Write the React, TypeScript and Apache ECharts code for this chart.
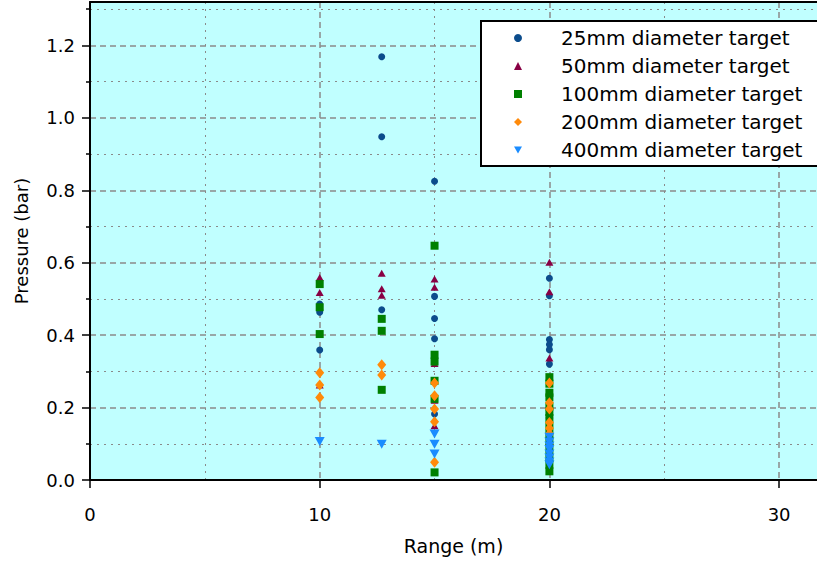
import React, { useEffect, useRef } from "react";
import * as echarts from "echarts";

const seriesNames = [
  "25mm diameter target",
  "50mm diameter target",
  "100mm diameter target",
  "200mm diameter target",
  "400mm diameter target",
];

const xTicks = [0, 10, 20, 30];
const xMinor = [5, 15, 25];
const yTicks = [0, 0.2, 0.4, 0.6, 0.8, 1.0, 1.2];
const yMinor = [0.1, 0.3, 0.5, 0.7, 0.9, 1.1, 1.3];

const d25 = [
  [10, 0.486], [10, 0.47], [10, 0.463], [10, 0.359],
  [12.7, 1.169], [12.7, 0.948], [12.7, 0.47],
  [15, 0.825], [15, 0.507], [15, 0.446], [15, 0.39], [15, 0.182],
  [20, 0.557], [20, 0.509], [20, 0.388], [20, 0.374], [20, 0.36], [20, 0.32],
];
const d50 = [
  [10, 0.559], [10, 0.518], [10, 0.262],
  [12.7, 0.571], [12.7, 0.528], [12.7, 0.51],
  [15, 0.555], [15, 0.532], [15, 0.322], [15, 0.22], [15, 0.15],
  [20, 0.601], [20, 0.52], [20, 0.337], [20, 0.18],
];
const d100 = [
  [10, 0.541], [10, 0.477], [10, 0.403],
  [12.7, 0.445], [12.7, 0.412], [12.7, 0.249],
  [15, 0.647], [15, 0.346], [15, 0.327], [15, 0.274], [15, 0.224], [15, 0.021],
  [20, 0.284], [20, 0.266], [20, 0.241], [20, 0.228], [20, 0.203], [20, 0.188],
  [20, 0.171], [20, 0.149], [20, 0.127], [20, 0.108], [20, 0.083], [20, 0.061],
  [20, 0.042], [20, 0.024],
];
const d200 = [
  [10, 0.296], [10, 0.262], [10, 0.228],
  [12.7, 0.318], [12.7, 0.29],
  [15, 0.268], [15, 0.233], [15, 0.196], [15, 0.161], [15, 0.049],
  [20, 0.268], [20, 0.213], [20, 0.196], [20, 0.159], [20, 0.143], [20, 0.128],
];
const d400 = [
  [10, 0.106],
  [12.7, 0.099],
  [15, 0.127], [15, 0.099], [15, 0.072],
  [20, 0.118], [20, 0.105], [20, 0.094], [20, 0.084], [20, 0.072], [20, 0.061],
  [20, 0.05], [20, 0.042],
];

const FONT = "DejaVu Sans";

export default function App() {
  const ref = useRef<HTMLDivElement>(null);
  useEffect(() => {
    if (!ref.current) return;
    const chart = echarts.init(ref.current, undefined, { renderer: "svg" });
    const major = { show: true, lineStyle: { color: "#8a8a8a", width: 1.5, type: [6, 4] as any } };
    const minor = { show: true, lineStyle: { color: "#8a8a8a", width: 1, type: [2, 5] as any } };
    const lbl = { fontFamily: FONT, fontSize: 18, color: "#000" };
    chart.setOption({
      animation: false,
      grid: {
        left: 90,
        top: 2,
        right: 0,
        height: 478,
        show: true,
        backgroundColor: "#c0ffff",
        borderWidth: 0,
      },
      legend: {
        orient: "vertical",
        left: 481,
        top: 21,
        padding: [6, 40, 5, 33],
        itemGap: 6,
        itemWidth: 8,
        itemHeight: 8,
        backgroundColor: "#fff",
        borderColor: "#000",
        borderWidth: 2,
        borderRadius: 0,
        textStyle: {
          fontFamily: FONT,
          fontSize: 20,
          lineHeight: 22,
          color: "#000",
          padding: [0, 0, 0, 34],
        },
        data: seriesNames,
      },
      xAxis: [
        {
          type: "value",
          min: 0,
          max: 31.65,
          position: "bottom",
          axisLine: { show: true, onZero: false, lineStyle: { color: "#000", width: 2 } },
          axisTick: { show: true, length: 8, customValues: xTicks, lineStyle: { color: "#000", width: 1.5 } },
          axisLabel: { ...lbl, margin: 25, customValues: xTicks, formatter: (v: number) => String(v) },
          splitLine: major,
          name: "Range (m)",
          nameLocation: "middle",
          nameGap: 56,
          nameTextStyle: { ...lbl, fontSize: 19 },
        },
        {
          type: "value",
          min: 0,
          max: 31.65,
          position: "bottom",
          axisLine: { show: false },
          axisTick: { show: false, customValues: xMinor },
          axisLabel: { show: false, customValues: xMinor },
          splitLine: minor,
        },
        {
          type: "value",
          min: 0,
          max: 31.65,
          position: "top",
          axisLine: { show: true, onZero: false, lineStyle: { color: "#000", width: 2 } },
          axisTick: { show: false },
          axisLabel: { show: false },
          splitLine: { show: false },
        },
      ],
      yAxis: [
        {
          type: "value",
          min: 0,
          max: 1.32,
          position: "left",
          axisLine: { show: true, onZero: false, lineStyle: { color: "#000", width: 2 } },
          axisTick: { show: true, length: 8, customValues: yTicks, lineStyle: { color: "#000", width: 1.5 } },
          axisLabel: { ...lbl, margin: 15, customValues: yTicks, formatter: (v: number) => v.toFixed(1) },
          splitLine: major,
          name: "Pressure (bar)",
          nameLocation: "middle",
          nameGap: 60,
          nameTextStyle: lbl,
        },
        {
          type: "value",
          min: 0,
          max: 1.32,
          position: "left",
          axisLine: { show: false },
          axisTick: { show: true, length: 4, customValues: yMinor, lineStyle: { color: "#000", width: 1.5 } },
          axisLabel: { show: false, customValues: yMinor },
          splitLine: minor,
        },
      ],
      series: [
        { name: seriesNames[0], type: "scatter", data: d25, symbol: "circle", symbolSize: 7, itemStyle: { color: "#0b4c8c", opacity: 1 } },
        { name: seriesNames[1], type: "scatter", data: d50, symbol: "triangle", symbolSize: [8, 7], itemStyle: { color: "#880044", opacity: 1 } },
        { name: seriesNames[2], type: "scatter", data: d100, symbol: "rect", symbolSize: 8, itemStyle: { color: "#008000", opacity: 1 } },
        { name: seriesNames[3], type: "scatter", data: d200, symbol: "diamond", symbolSize: [9, 11], itemStyle: { color: "#ff8a0a", opacity: 1 } },
        { name: seriesNames[4], type: "scatter", data: d400, symbol: "path://M0,0L10,0L5,9Z", symbolSize: [10, 9], itemStyle: { color: "#1a8cff", opacity: 1 } },
      ],
    });
    return () => chart.dispose();
  }, []);
  return <div ref={ref} style={{ width: 817, height: 562, position: "absolute", left: 0, top: 0 }} />;
}
